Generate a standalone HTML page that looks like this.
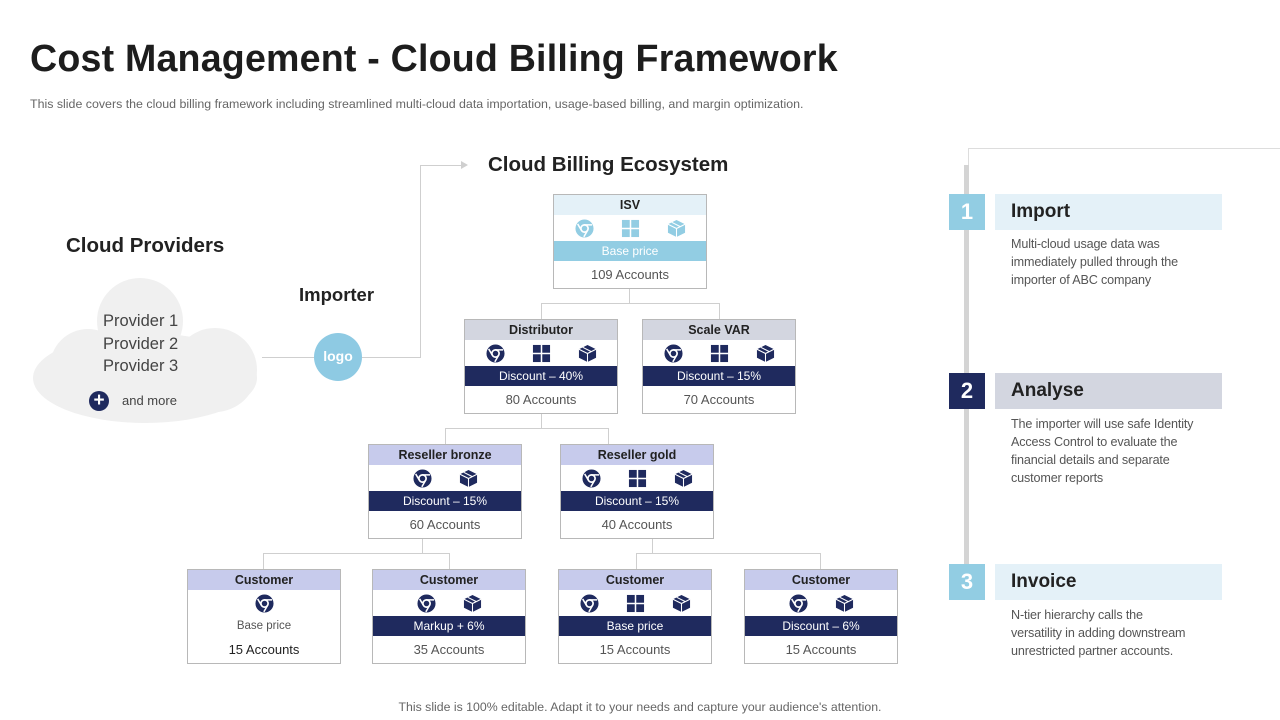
<!DOCTYPE html>
<html><head><meta charset="utf-8">
<style>
*{margin:0;padding:0;box-sizing:border-box}
body{width:1280px;height:720px;background:#fff;position:relative;overflow:hidden;font-family:"Liberation Sans",sans-serif;color:#222}
.a{position:absolute}
h1{position:absolute;left:30px;top:37px;font-size:37.6px;font-weight:bold;color:#1d1d1d;letter-spacing:0.2px}
.sub{left:30px;top:97px;font-size:12.4px;color:#666}
.box{position:absolute;width:154px;height:95px;border:1px solid #b8b8b8;background:#fff;font-size:12.5px}
.hd{height:20px;line-height:20px;text-align:center;font-weight:bold;font-size:12.5px;color:#222}
.ic{height:26px;display:flex;justify-content:center;align-items:center;gap:27px}
.ic svg{width:19px;height:19px}
.bar{height:20px;line-height:20px;text-align:center;color:#fff;font-size:12px;background:#1f2a5e}
.acc{height:27px;line-height:27px;text-align:center;color:#555;font-size:13px}
.ln{position:absolute;background:#cfcfcf}
.num{position:absolute;left:949px;width:36px;height:36px;color:#fff;font-weight:bold;font-size:22px;text-align:center;line-height:36px}
.tt{position:absolute;left:995px;width:227px;height:36px;font-size:19px;font-weight:bold;line-height:36px;padding-left:16px;color:#222}
.desc{position:absolute;left:1011px;width:230px;font-size:12.6px;letter-spacing:-0.15px;line-height:18px;color:#555}
</style></head><body>
<svg width="0" height="0" style="position:absolute">
<defs>
<symbol id="ch" viewBox="0 0 20 20"><circle cx="10" cy="10" r="9.5" fill="currentColor"/><circle cx="10" cy="10" r="3.8" fill="none" stroke="#fff" stroke-width="1.8"/><path d="M10 6.2H18M6.7 11.9L2.8 5.2M13.3 11.9L9.3 18.8" stroke="#fff" stroke-width="1.6"/></symbol>
<symbol id="wi" viewBox="0 0 20 20"><rect x="1" y="1" width="8.2" height="8.2" fill="currentColor"/><rect x="10.8" y="1" width="8.2" height="8.2" fill="currentColor"/><rect x="1" y="10.8" width="8.2" height="8.2" fill="currentColor"/><rect x="10.8" y="10.8" width="8.2" height="8.2" fill="currentColor"/></symbol>
<symbol id="bx" viewBox="0 0 20 20"><path d="M10 1L19 5.5V14.5L10 19L1 14.5V5.5Z" fill="currentColor"/><path d="M1 5.5L10 10L19 5.5M10 10V19M5 3.5L14 8" stroke="#fff" stroke-width="1.1" fill="none"/></symbol>
</defs></svg>

<h1>Cost Management - Cloud Billing Framework</h1>
<div class="a sub">This slide covers the cloud billing framework including streamlined multi-cloud data importation, usage-based billing, and margin optimization.</div>

<div class="a" style="left:66px;top:234px;font-size:20.5px;font-weight:bold">Cloud Providers</div>
<svg class="a" style="left:30px;top:275px" width="235" height="150"><g fill="#f0f0f0"><circle cx="110" cy="46" r="43"/><ellipse cx="115" cy="103" rx="112" ry="45"/><circle cx="58" cy="92" r="38"/><circle cx="185" cy="95" r="42"/></g></svg>
<div class="a" style="left:103px;top:310px;font-size:16.5px;line-height:22.5px;color:#444">Provider 1<br>Provider 2<br>Provider 3</div>
<div class="a" style="left:89px;top:391px;width:20px;height:20px;border-radius:50%;background:#1f2a5e;color:#fff;font-weight:bold;font-size:19px;line-height:19px;text-align:center">+</div>
<div class="a" style="left:122px;top:393px;font-size:13px;color:#444">and more</div>
<div class="a" style="left:299px;top:284px;font-size:18.5px;font-weight:bold">Importer</div>
<div class="ln" style="left:262px;top:357px;width:158px;height:1px"></div>
<div class="a" style="left:314px;top:333px;width:48px;height:48px;border-radius:50%;background:#8ecae3;color:#fff;font-weight:bold;font-size:14px;line-height:46px;text-align:center">logo</div>
<div class="ln" style="left:420px;top:165px;width:1px;height:193px"></div>
<div class="ln" style="left:420px;top:165px;width:42px;height:1px"></div>
<div class="a" style="left:461px;top:161px;width:0;height:0;border-left:7px solid #cfcfcf;border-top:4px solid transparent;border-bottom:4px solid transparent"></div>
<div class="a" style="left:488px;top:153px;font-size:20.5px;font-weight:bold">Cloud Billing Ecosystem</div>

<div class="ln" style="left:629px;top:288px;width:1px;height:15px"></div>
<div class="ln" style="left:541px;top:303px;width:179px;height:1px"></div>
<div class="ln" style="left:541px;top:303px;width:1px;height:16px"></div>
<div class="ln" style="left:719px;top:303px;width:1px;height:16px"></div>
<div class="ln" style="left:541px;top:413px;width:1px;height:15px"></div>
<div class="ln" style="left:445px;top:428px;width:164px;height:1px"></div>
<div class="ln" style="left:445px;top:428px;width:1px;height:16px"></div>
<div class="ln" style="left:608px;top:428px;width:1px;height:16px"></div>
<div class="ln" style="left:422px;top:538px;width:1px;height:15px"></div>
<div class="ln" style="left:263px;top:553px;width:187px;height:1px"></div>
<div class="ln" style="left:263px;top:553px;width:1px;height:16px"></div>
<div class="ln" style="left:449px;top:553px;width:1px;height:16px"></div>
<div class="ln" style="left:652px;top:538px;width:1px;height:15px"></div>
<div class="ln" style="left:636px;top:553px;width:185px;height:1px"></div>
<div class="ln" style="left:636px;top:553px;width:1px;height:16px"></div>
<div class="ln" style="left:820px;top:553px;width:1px;height:16px"></div>

<div class="box" style="left:553px;top:194px;color:#92cde3">
<div class="hd" style="background:#e4f1f8">ISV</div>
<div class="ic"><svg><use href="#ch"/></svg><svg><use href="#wi"/></svg><svg><use href="#bx"/></svg></div>
<div class="bar" style="background:#92cde3">Base price</div>
<div class="acc">109 Accounts</div></div>

<div class="box" style="left:464px;top:319px;color:#1f2a5e">
<div class="hd" style="background:#d3d6e0">Distributor</div>
<div class="ic"><svg><use href="#ch"/></svg><svg><use href="#wi"/></svg><svg><use href="#bx"/></svg></div>
<div class="bar">Discount – 40%</div><div class="acc">80 Accounts</div></div>

<div class="box" style="left:642px;top:319px;color:#1f2a5e">
<div class="hd" style="background:#d3d6e0">Scale VAR</div>
<div class="ic"><svg><use href="#ch"/></svg><svg><use href="#wi"/></svg><svg><use href="#bx"/></svg></div>
<div class="bar">Discount – 15%</div><div class="acc">70 Accounts</div></div>

<div class="box" style="left:368px;top:444px;color:#1f2a5e">
<div class="hd" style="background:#c7cbec">Reseller bronze</div>
<div class="ic"><svg><use href="#ch"/></svg><svg><use href="#bx"/></svg></div>
<div class="bar">Discount – 15%</div><div class="acc">60 Accounts</div></div>

<div class="box" style="left:560px;top:444px;color:#1f2a5e">
<div class="hd" style="background:#c7cbec">Reseller gold</div>
<div class="ic"><svg><use href="#ch"/></svg><svg><use href="#wi"/></svg><svg><use href="#bx"/></svg></div>
<div class="bar">Discount – 15%</div><div class="acc">40 Accounts</div></div>

<div class="box" style="left:187px;top:569px;color:#1f2a5e">
<div class="hd" style="background:#c7cbec">Customer</div>
<div class="ic"><svg><use href="#ch"/></svg></div>
<div class="bar" style="background:#fff;color:#555;font-size:11.5px">Base price</div>
<div class="acc" style="color:#222">15 Accounts</div></div>

<div class="box" style="left:372px;top:569px;color:#1f2a5e">
<div class="hd" style="background:#c7cbec">Customer</div>
<div class="ic"><svg><use href="#ch"/></svg><svg><use href="#bx"/></svg></div>
<div class="bar">Markup + 6%</div><div class="acc">35 Accounts</div></div>

<div class="box" style="left:558px;top:569px;color:#1f2a5e">
<div class="hd" style="background:#c7cbec">Customer</div>
<div class="ic"><svg><use href="#ch"/></svg><svg><use href="#wi"/></svg><svg><use href="#bx"/></svg></div>
<div class="bar">Base price</div><div class="acc">15 Accounts</div></div>

<div class="box" style="left:744px;top:569px;color:#1f2a5e">
<div class="hd" style="background:#c7cbec">Customer</div>
<div class="ic"><svg><use href="#ch"/></svg><svg><use href="#bx"/></svg></div>
<div class="bar">Discount – 6%</div><div class="acc">15 Accounts</div></div>

<div class="ln" style="left:968px;top:148px;width:312px;height:1px;background:#ddd"></div>
<div class="ln" style="left:968px;top:148px;width:1px;height:20px;background:#ddd"></div>
<div class="ln" style="left:964px;top:165px;width:5px;height:405px;background:#d4d4d4"></div>

<div class="num" style="top:194px;background:#92cde3">1</div>
<div class="tt" style="top:194px;background:#e4f1f8">Import</div>
<div class="desc" style="top:235px">Multi-cloud usage data was<br>immediately pulled through the<br>importer of ABC company</div>

<div class="num" style="top:373px;background:#1f2a5e">2</div>
<div class="tt" style="top:373px;background:#d3d6e0">Analyse</div>
<div class="desc" style="top:415px">The importer will use safe Identity<br>Access Control to evaluate the<br>financial details and separate<br>customer reports</div>

<div class="num" style="top:564px;background:#92cde3">3</div>
<div class="tt" style="top:564px;background:#e4f1f8">Invoice</div>
<div class="desc" style="top:606px">N-tier hierarchy calls the<br>versatility in adding downstream<br>unrestricted partner accounts.</div>

<div class="a" style="left:0;width:1280px;top:700px;text-align:center;font-size:12.3px;color:#666">This slide is 100% editable. Adapt it to your needs and capture your audience's attention.</div>
</body></html>
